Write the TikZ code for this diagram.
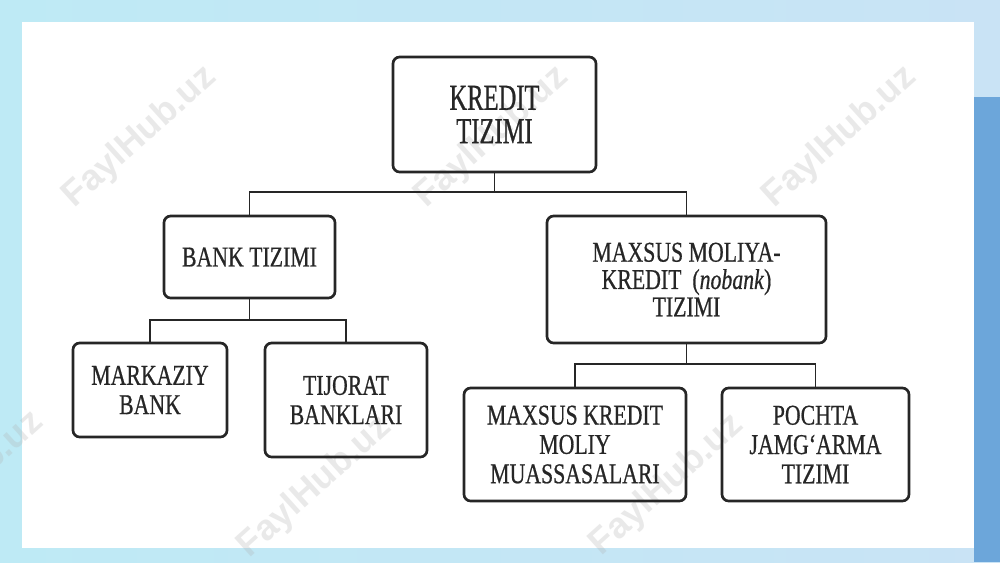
\documentclass[tikz,border=0pt]{standalone}
\usepackage{fontspec}
\setmainfont{Liberation Serif}[FakeStretch=0.76, FakeBold=0.6]
\newfontfamily\topfont{Liberation Serif}[FakeStretch=0.67, FakeBold=0.6]
\newfontfamily\wmfont{Liberation Sans}
\usetikzlibrary{calc}
\definecolor{bgleft}{HTML}{BEEAF5}
\definecolor{bgright}{HTML}{C9E3F5}
\definecolor{strip}{HTML}{6CA6DA}
\definecolor{ink}{HTML}{262626}
\tikzset{
  box/.style={draw=ink, line width=2pt, rounded corners=5pt, align=center,
    text=ink, inner sep=0pt, font=\fontsize{21.5}{22}\selectfont},
  conn/.style={draw=ink, line width=1.4pt},
  wm/.style={text=gray!60, opacity=0.28, rotate=42, font=\wmfont\bfseries\fontsize{27}{27}\selectfont}
}
\begin{document}
\begin{tikzpicture}[x=0.75pt, y=-0.75pt]
\useasboundingbox (0,0) rectangle (1000,562);
% background
\shade[left color=bgleft, right color=bgright] (0,0) rectangle (1000,562);
\fill[strip] (974,97) rectangle (1000,562);
\fill[white] (22,22) rectangle (974,548);
% watermarks
\foreach \p in {(140,137),(492,137),(840,137),(-33,482),(315,487),(667,485)}{
  \node[wm] at \p {FaylHub.uz};
}
% nodes
\node[box, minimum width=203*0.75pt, minimum height=115*0.75pt, font=\topfont\fontsize{27.5}{25}\selectfont]
  (top) at (494.5,114.5) {KREDIT\\TIZIMI};
\node[box, minimum width=171*0.75pt, minimum height=82*0.75pt]
  (bank) at (249.5,257) {BANK TIZIMI};
\node[box, minimum width=279*0.75pt, minimum height=127*0.75pt, font=\fontsize{21.5}{20.5}\selectfont]
  (nobank) at (686.5,279.5) {MAXSUS MOLIYA-\\KREDIT\ \ (\textit{nobank})\\TIZIMI};
\node[box, minimum width=154*0.75pt, minimum height=94*0.75pt]
  (mark) at (150,390) {MARKAZIY\\BANK};
\node[box, minimum width=162*0.75pt, minimum height=114*0.75pt]
  (tij) at (346,400) {TIJORAT\\BANKLARI};
\node[box, minimum width=222*0.75pt, minimum height=113*0.75pt]
  (mk) at (575,444.5) {MAXSUS KREDIT\\MOLIY\\MUASSASALARI};
\node[box, minimum width=187*0.75pt, minimum height=113*0.75pt]
  (poch) at (815.5,444.5) {POCHTA\\JAMG‘ARMA\\TIZIMI};
% junctions
\coordinate (j1) at (494.5,192);
\coordinate (j2) at (249.5,320);
\coordinate (j3) at (686.5,364);
% connectors
\draw[conn] (top.south) -- (j1);
\draw[conn] (bank.north) |- (j1) -| (nobank.north);
\draw[conn] (bank.south) -- (j2);
\draw[conn] (mark.north) |- (j2) -| (tij.north);
\draw[conn] (nobank.south) -- (j3);
\draw[conn] (mk.north) |- (j3) -| (poch.north);
\end{tikzpicture}
\end{document}
